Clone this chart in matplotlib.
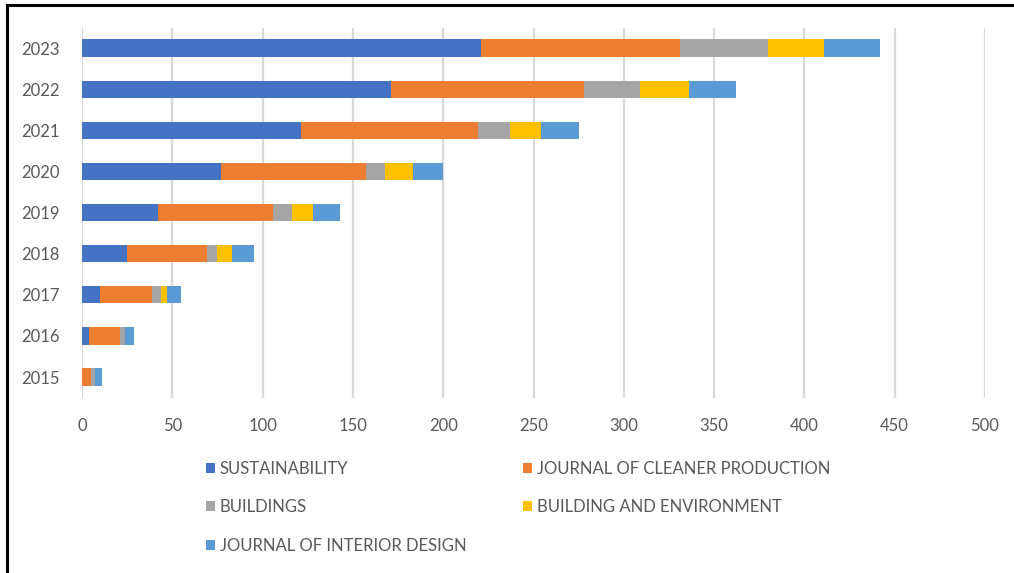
import numpy as np
import matplotlib
matplotlib.use("Agg")
import matplotlib.pyplot as plt
from matplotlib.lines import Line2D
from matplotlib.patches import Patch

plt.rcParams['font.family'] = ['Lato', 'DejaVu Sans']

years = ["2015", "2016", "2017", "2018", "2019", "2020", "2021", "2022", "2023"]
sustainability = [0, 4, 10, 25, 42, 77, 121, 171, 221]
cleaner_production = [5, 17, 29, 44, 64, 80, 98, 107, 110]
buildings = [2, 3, 5, 6, 10, 11, 18, 31, 49]
building_env = [0, 0, 3, 8, 12, 15, 17, 27, 31]
interior_design = [4, 5, 8, 12, 15, 17, 21, 26, 31]

series = [
    ("SUSTAINABILITY", sustainability, "#4472C4"),
    ("JOURNAL OF CLEANER PRODUCTION", cleaner_production, "#ED7D31"),
    ("BUILDINGS", buildings, "#A5A5A5"),
    ("BUILDING AND ENVIRONMENT", building_env, "#FFC000"),
    ("JOURNAL OF INTERIOR DESIGN", interior_design, "#5B9BD5"),
]

fig = plt.figure(figsize=(10.14, 5.73), dpi=100)
ax = fig.add_axes([0.0809, 0.306, 0.8905, 0.646])

y = np.arange(len(years))
left = np.zeros(len(years))
handles = []
for name, vals, col in series:
    vals = np.array(vals, dtype=float)
    ax.barh(y, vals, left=left, height=0.42, color=col, zorder=3)
    left += vals
    handles.append(Patch(facecolor=col, label=name))

ax.set_xlim(0, 500)
ax.set_ylim(-0.5, 8.5)
ax.set_xticks(np.arange(0, 501, 50))
ax.set_yticks(y)
ax.set_yticklabels(years)
ax.tick_params(axis="both", length=0, labelsize=12, colors="#595959")
ax.tick_params(axis="x", pad=15)
ax.tick_params(axis="y", pad=16)
ax.grid(axis="x", color="#D9D9D9", linewidth=1.6, zorder=0)
for s in ax.spines.values():
    s.set_visible(False)

# legend rows go across two columns, matplotlib fills by column
order = [0, 2, 4, 1, 3]
leg = fig.legend([handles[i] for i in order], [handles[i].get_label() for i in order],
                 ncol=2, loc="upper left", bbox_to_anchor=(0.188, 0.222),
                 frameon=False, fontsize=12, handlelength=0.55, handleheight=0.55,
                 handletextpad=0.3, columnspacing=3.4, labelspacing=1.35)
for t in leg.get_texts():
    t.set_color("#595959")

# outer frame lines on top and left
fig.add_artist(Line2D([0.007, 1.0], [0.991, 0.991], color="black", linewidth=2.2,
                      transform=fig.transFigure))
fig.add_artist(Line2D([0.007, 0.007], [0.0, 0.991], color="black", linewidth=2.2,
                      transform=fig.transFigure))

fig.savefig("out.png", dpi=100)
